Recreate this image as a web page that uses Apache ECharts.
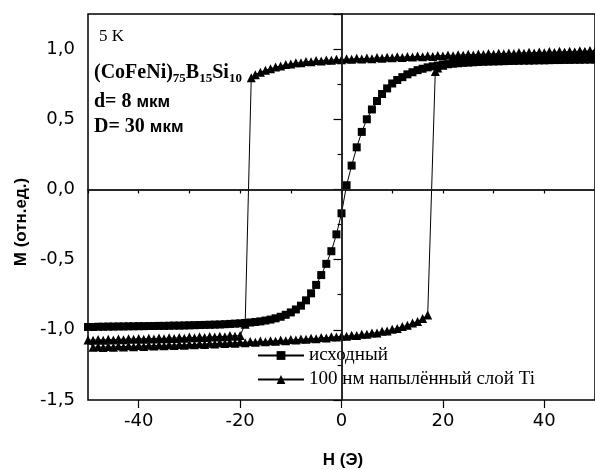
<!DOCTYPE html>
<html><head><meta charset="utf-8">
<script src="https://cdn.jsdelivr.net/npm/echarts@6/dist/echarts.min.js"></script>
<style>html,body{margin:0;padding:0;background:#fff}#c{width:595px;height:470px}</style>
</head><body><div id="c"></div>
<script>
// Field H (Oe) and magnetisation M (rel. units)
const hSquares = [-50,-49,-48,-47,-46,-45,-44,-43,-42,-41,-40,-39,-38,-37,-36,-35,-34,-33,-32,-31,-30,-29,-28,-27,-26,-25,-24,-23,-22,-21,-20,-19,-18,-17,-16,-15,-14,-13,-12,-11,-10,-9,-8,-7,-6,-5,-4,-3,-2,-1,0,1,2,3,4,5,6,7,8,9,10,11,12,13,14,15,16,17,18,19,20,21,22,23,24,25,26,27,28,29,30,31,32,33,34,35,36,37,38,39,40,41,42,43,44,45,46,47,48,49,50];
const mSquares = [-0.98,-0.98,-0.978,-0.978,-0.977,-0.977,-0.976,-0.976,-0.975,-0.975,-0.974,-0.974,-0.973,-0.973,-0.972,-0.972,-0.971,-0.97,-0.97,-0.969,-0.968,-0.967,-0.966,-0.965,-0.964,-0.963,-0.962,-0.96,-0.958,-0.956,-0.954,-0.951,-0.948,-0.944,-0.94,-0.934,-0.927,-0.918,-0.907,-0.893,-0.876,-0.855,-0.828,-0.79,-0.74,-0.68,-0.61,-0.53,-0.44,-0.32,-0.17,0.03,0.17,0.30,0.41,0.50,0.57,0.63,0.68,0.72,0.755,0.78,0.80,0.82,0.835,0.85,0.86,0.87,0.877,0.883,0.888,0.892,0.896,0.899,0.902,0.904,0.906,0.908,0.91,0.911,0.912,0.913,0.914,0.915,0.916,0.917,0.918,0.918,0.919,0.92,0.92,0.921,0.922,0.922,0.923,0.923,0.924,0.924,0.925,0.925,0.926];

// Triangles: one continuous loop (upper branch down, jump, lower branch, back up, jump)
const hTriangles = [50,49,48,47,46,45,44,43,42,41,40,39,38,37,36,35,34,33,32,31,30,29,28,27,26,25,24,23,22,21,20,19,18,17,16,15,14,13,12,11,10,9,8,7,6,5,4,3,2,1,0,-1,-2,-3,-4,-5,-6,-7,-8,-9,-10,-11,-12,-13,-14,-15,-16,-17,-17.8,
 -19,-20,-21,-22,-23,-24,-25,-26,-27,-28,-29,-30,-31,-32,-33,-34,-35,-36,-37,-38,-39,-40,-41,-42,-43,-44,-45,-46,-47,-48,-49,-50,
 -49,-48,-47,-46,-45,-44,-43,-42,-41,-40,-39,-38,-37,-36,-35,-34,-33,-32,-31,-30,-29,-28,-27,-26,-25,-24,-23,-22,-21,-20,-19,-18,-17,-16,-15,-14,-13,-12,-11,-10,-9,-8,-7,-6,-5,-4,-3,-2,-1,0,1,2,3,4,5,6,7,8,9,10,11,12,13,14,15,16,17,
 18.5,19,20,21,22,23,24,25,26,27,28,29,30,31,32,33,34,35,36,37,38,39,40,41,42,43,44,45,46,47,48,49,50];
const mTriangles = [0.985,0.99,0.982,0.988,0.98,0.985,0.978,0.984,0.976,0.982,0.974,0.98,0.972,0.977,0.97,0.975,0.968,0.972,0.966,0.97,0.963,0.968,0.961,0.965,0.958,0.963,0.956,0.96,0.953,0.958,0.951,0.955,0.948,0.952,0.945,0.95,0.943,0.947,0.94,0.945,0.938,0.942,0.935,0.94,0.932,0.936,0.93,0.934,0.927,0.931,0.924,0.927,0.92,0.923,0.916,0.918,0.91,0.912,0.903,0.903,0.894,0.89,0.88,0.872,0.86,0.85,0.835,0.818,0.795,
 -0.96,-1.04,-1.045,-1.04,-1.05,-1.045,-1.052,-1.048,-1.055,-1.05,-1.057,-1.052,-1.06,-1.054,-1.062,-1.056,-1.063,-1.058,-1.065,-1.06,-1.067,-1.062,-1.068,-1.063,-1.07,-1.065,-1.072,-1.067,-1.074,-1.069,-1.075,-1.072,
 -1.125,-1.12,-1.126,-1.118,-1.124,-1.116,-1.122,-1.114,-1.12,-1.112,-1.118,-1.11,-1.116,-1.108,-1.114,-1.106,-1.112,-1.104,-1.11,-1.102,-1.107,-1.099,-1.104,-1.096,-1.101,-1.093,-1.098,-1.09,-1.095,-1.087,-1.092,-1.084,-1.088,-1.08,-1.085,-1.077,-1.081,-1.073,-1.077,-1.069,-1.073,-1.065,-1.068,-1.06,-1.063,-1.055,-1.058,-1.05,-1.052,-1.044,-1.046,-1.038,-1.04,-1.031,-1.032,-1.022,-1.022,-1.011,-1.008,-0.996,-0.99,-0.977,-0.968,-0.952,-0.94,-0.92,-0.895,
 0.84,0.865,0.885,0.898,0.906,0.913,0.919,0.925,0.93,0.934,0.938,0.942,0.945,0.948,0.95,0.953,0.955,0.958,0.96,0.962,0.964,0.966,0.968,0.97,0.972,0.973,0.975,0.976,0.978,0.979,0.98,0.982,0.983];

const xTickLabels = ['-50','-40','-30','-20','-10','0','10','20','30','40','50'];
const yTickLabels = ['-1,5','-1,0','-0,5','0,0','0,5','1,0'];
const seriesNames = ['исходный','100 нм напылённый слой Ti'];

const zip = (a, b) => a.map((v, i) => [v, b[i]]);
const SANS = 'Liberation Sans, Arial, sans-serif';
const TICKFONT = 'DejaVu Sans, sans-serif';
const SERIF = 'Liberation Serif, Times New Roman, serif';

const chart = echarts.init(document.getElementById('c'), null, {renderer: 'canvas'});
chart.setOption({
  animation: false,
  backgroundColor: '#fff',
  grid: {left: 88, top: 14, width: 510, height: 386, show: true, borderColor: '#000', borderWidth: 1.5, backgroundColor: 'transparent'},
  xAxis: [
    {type: 'value', min: -50, max: 50, interval: 10, position: 'bottom',
     axisLine: {lineStyle: {color: '#000', width: 1.5}},
     axisTick: {show: true, length: 4, lineStyle: {color: '#000', width: 1.2}},
     axisLabel: {show: false}, splitLine: {show: false}},
    {type: 'category', data: xTickLabels, boundaryGap: false, position: 'bottom',
     axisLine: {show: false},
     axisTick: {show: true, length: 8, interval: (i) => i % 2 === 1, lineStyle: {color: '#000', width: 1.2}},
     axisLabel: {interval: (i) => i % 2 === 1, fontSize: 18, color: '#000', fontFamily: TICKFONT, margin: 12},
     splitLine: {show: false}}
  ],
  yAxis: {type: 'value', min: -1.5, max: 1.25, interval: 0.5,
    axisLine: {lineStyle: {color: '#000', width: 1.5}},
    axisTick: {length: 8, lineStyle: {color: '#000', width: 1.2}},
    minorTick: {show: true, splitNumber: 2, length: 4, lineStyle: {color: '#000', width: 1.2}},
    axisLabel: {fontSize: 18, color: '#000', fontFamily: TICKFONT, margin: 13,
      formatter: (v) => { const k = Math.round((v + 1.5) / 0.5); return Math.abs(v - (-1.5 + k * 0.5)) < 1e-6 && k < yTickLabels.length ? yTickLabels[k] : ''; }},
    splitLine: {show: false}},
  legend: {orient: 'vertical', left: 257, top: 346, padding: 0, itemWidth: 46, itemHeight: 11, itemGap: 5,
    data: seriesNames, textStyle: {fontFamily: SERIF, fontSize: 19, color: '#000'}},
  series: [
    {name: seriesNames[0], type: 'line', xAxisIndex: 0, data: zip(hSquares, mSquares),
     symbol: 'rect', symbolSize: 8, showAllSymbol: true,
     itemStyle: {color: '#000'}, lineStyle: {color: '#000', width: 1},
     markLine: {silent: true, symbol: 'none', label: {show: false},
       lineStyle: {color: '#222', width: 1.5, type: 'solid'},
       data: [{xAxis: 0}, {yAxis: 0}]}},
    {name: seriesNames[1], type: 'line', xAxisIndex: 0, data: zip(hTriangles, mTriangles),
     symbol: 'triangle', symbolSize: 9, showAllSymbol: true,
     itemStyle: {color: '#000'}, lineStyle: {color: '#000', width: 1}}
  ],
  graphic: [
    {type: 'text', left: 99, top: 28, style: {text: '5 K', font: '17px ' + SERIF, fill: '#000'}},
    {type: 'text', left: 94, top: 60, style: {
      text: '{a|(CoFeNi)}{s|75}{a|B}{s|15}{a|Si}{s|10}',
      rich: {a: {fontFamily: SERIF, fontWeight: 'bold', fontSize: 20, lineHeight: 24, fill: '#000'},
             s: {fontFamily: SERIF, fontWeight: 'bold', fontSize: 13, lineHeight: 24, padding: [12, 0, 0, 0], fill: '#000'}}}},
    {type: 'text', left: 94, top: 92, style: {
      text: '{a|d= 8 }{b|мкм}',
      rich: {a: {fontFamily: SERIF, fontWeight: 'bold', fontSize: 20, lineHeight: 22, fill: '#000'},
             b: {fontFamily: SANS, fontWeight: 'bold', fontSize: 17, lineHeight: 22, fill: '#000'}}}},
    {type: 'text', left: 94, top: 117, style: {
      text: '{a|D= 30 }{b|мкм}',
      rich: {a: {fontFamily: SERIF, fontWeight: 'bold', fontSize: 20, lineHeight: 22, fill: '#000'},
             b: {fontFamily: SANS, fontWeight: 'bold', fontSize: 17, lineHeight: 22, fill: '#000'}}}},
    {type: 'text', x: 21, y: 222, rotation: Math.PI / 2,
     style: {text: 'M (отн.ед.)', font: 'bold 17px ' + SANS, fill: '#000', textAlign: 'center', textVerticalAlign: 'middle'}},
    {type: 'text', x: 343, y: 460,
     style: {text: 'H (Э)', font: 'bold 17px ' + SANS, fill: '#000', textAlign: 'center', textVerticalAlign: 'middle'}}
  ]
});
</script>
</body></html>
